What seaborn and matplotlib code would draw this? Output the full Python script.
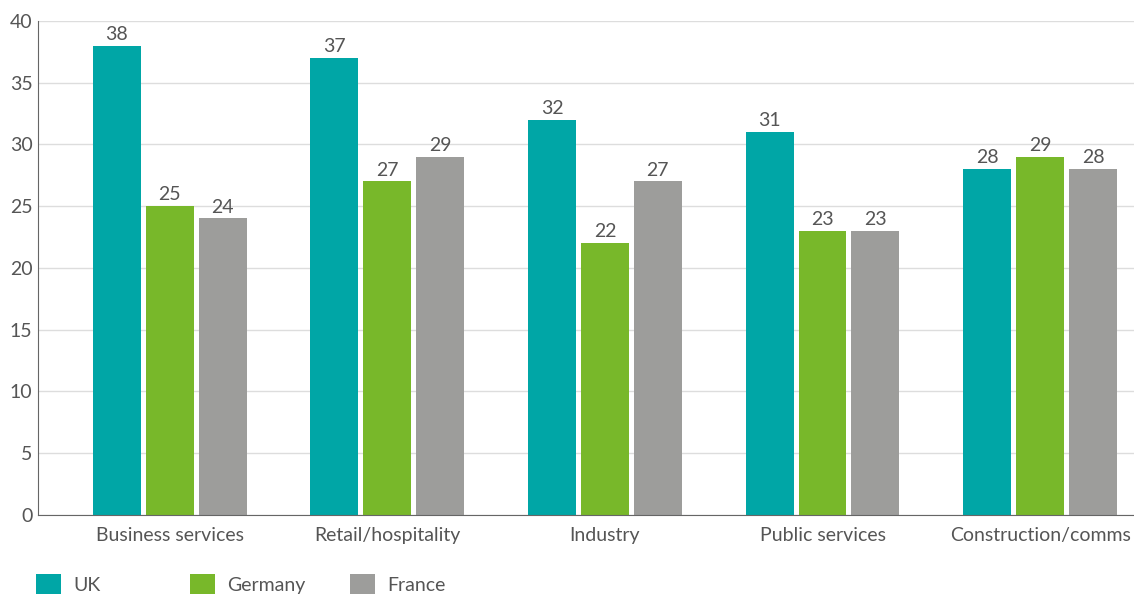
import pandas as pd
import numpy as np
import matplotlib.pyplot as plt
import seaborn as sns

############################ Data ##########################################
sectors = ["Business services", "Retail/hospitality", "Industry", "Public services", "Construction/comms"]
uk = [38, 37, 32, 31, 28]
germany = [25, 27, 22, 23, 29]
france = [24, 29, 27, 23, 28]
countries = ["UK", "Germany", "France"]
colors = ["#00A6A6", "#78B82A", "#9D9D9B"]

df = pd.DataFrame({"sector": sectors * 3,
                   "country": ["UK"] * 5 + ["Germany"] * 5 + ["France"] * 5,
                   "value": uk + germany + france})

############################ Plot ##########################################
sns.set_style("white")
plt.rcParams["font.family"] = ["Lato", "DejaVu Sans"]
txt = "#555555"

fig = plt.figure(figsize=(11.34, 5.94), dpi=100)
ax = fig.add_axes([0.0335, 0.133, 0.97, 0.832])

sns.barplot(data=df, x="sector", y="value", hue="country", hue_order=countries,
            palette=colors, width=0.73, gap=0.095, saturation=1, linewidth=0,
            ax=ax, legend=True)

for c in ax.containers:
    ax.bar_label(c, fmt="%d", padding=2, fontsize=14, color=txt)

ax.set_ylim(0, 40)
ax.set_xlim(-0.606, 4.45)
ax.set_yticks(range(0, 41, 5))
ax.yaxis.grid(True, color="#dddddd", linewidth=1)
ax.set_axisbelow(True)
ax.set_xlabel("")
ax.set_ylabel("")
for s in ["top", "right"]:
    ax.spines[s].set_visible(False)
ax.spines["left"].set_color("#666666")
ax.spines["bottom"].set_color("#666666")
ax.tick_params(axis="both", labelsize=14, colors=txt, length=0)
ax.tick_params(axis="x", pad=9)
ax.tick_params(axis="y", pad=4)

# legend entries sit at fixed positions below the axis
handles, labels = ax.get_legend_handles_labels()
ax.get_legend().remove()
for h, l, x in zip(handles, labels, [36, 190, 350]):
    fig.legend([h], [l], loc="upper left", bbox_to_anchor=(x / 1134, 1 - 574 / 594),
               frameon=False, fontsize=14, labelcolor=txt, handlelength=1.3,
               handleheight=1.3, handletextpad=0.6, borderpad=0, borderaxespad=0)

fig.savefig("out.png", dpi=100)
